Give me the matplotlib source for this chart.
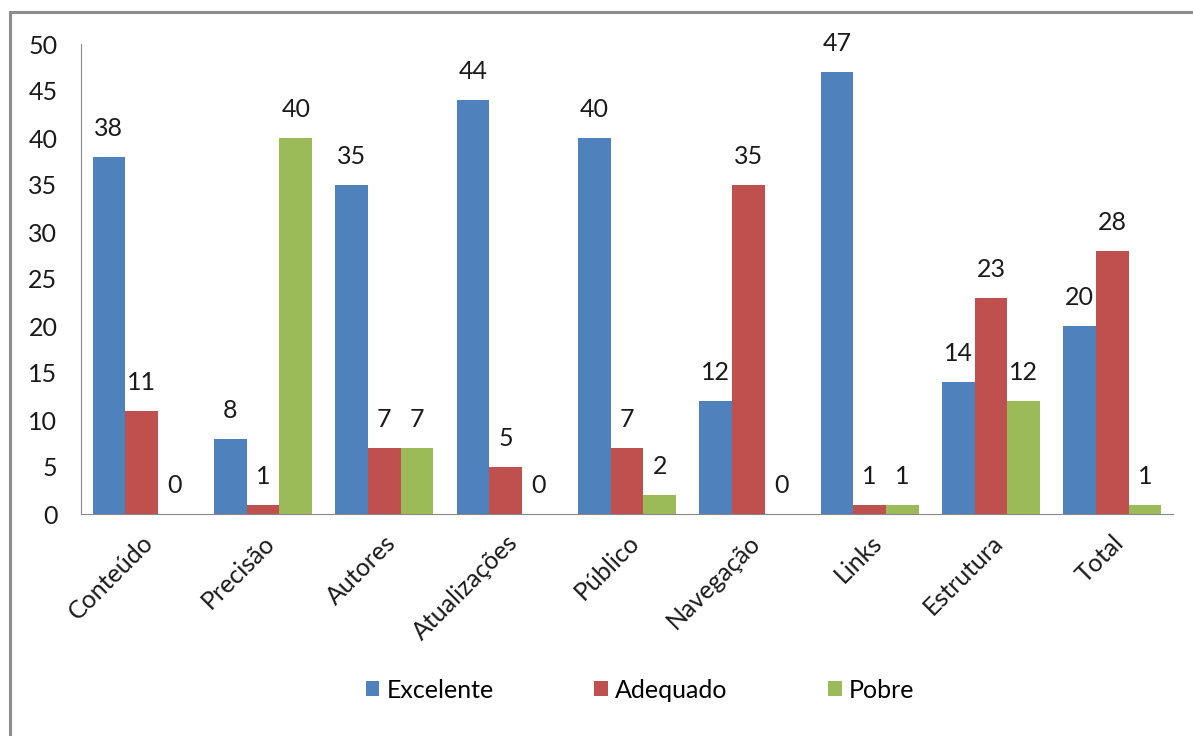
import matplotlib
matplotlib.use("Agg")
import matplotlib.pyplot as plt
import numpy as np
from matplotlib.patches import Rectangle

categories = ["Conteúdo", "Precisão", "Autores", "Atualizações", "Público",
              "Navegação", "Links", "Estrutura", "Total"]
excelente = [38, 8, 35, 44, 40, 12, 47, 14, 20]
adequado = [11, 1, 7, 5, 7, 35, 1, 23, 28]
pobre = [0, 40, 7, 0, 2, 0, 1, 12, 1]
series_names = ["Excelente", "Adequado", "Pobre"]
colors = ["#4F81BD", "#C0504D", "#9BBB59"]

plt.rcParams['font.family'] = ['Lato', 'DejaVu Sans']

W, H = 1193, 736
fig = plt.figure(figsize=(W / 100, H / 100), dpi=100)
fig.patches.append(Rectangle((10 / W, -0.1), 1.2, 1 - 12 / H + 0.1,
                             transform=fig.transFigure, fill=False,
                             edgecolor="#8c8c8c", linewidth=2.2))

ax = fig.add_axes([81 / W, 1 - 514 / H, (1173 - 81) / W, (514 - 44) / H])
x = np.arange(len(categories))
bw = 0.27
for i, (vals, name, c) in enumerate(zip([excelente, adequado, pobre], series_names, colors)):
    pos = x + (i - 1) * bw
    ax.bar(pos, vals, bw, color=c, label=name)
    for xp, v in zip(pos, vals):
        ax.text(xp, v + 1.8, str(v), ha="center", va="bottom", fontsize=18, color="#1a1a1a")

ax.set_xlim(-0.5, len(categories) - 0.5)
ax.set_ylim(0, 50)
ax.set_yticks(range(0, 51, 5))
ax.set_xticks(x)
ax.set_xticklabels(categories, rotation=45, ha="right", rotation_mode="anchor",
                   fontsize=18, color="#1a1a1a")
ax.tick_params(axis="y", length=0, labelsize=18, labelcolor="#1a1a1a", pad=17)
ax.tick_params(axis="x", length=0, pad=12)
for s in ["top", "right"]:
    ax.spines[s].set_visible(False)
ax.spines["left"].set_color("#888888")
ax.spines["bottom"].set_color("#888888")

fig.legend(loc="center", bbox_to_anchor=(640 / W, 1 - 690 / H), ncol=3,
           frameon=False, fontsize=18, handlelength=0.55, handleheight=0.55,
           columnspacing=4.0, handletextpad=0.3)

fig.savefig("out.png", dpi=100)
